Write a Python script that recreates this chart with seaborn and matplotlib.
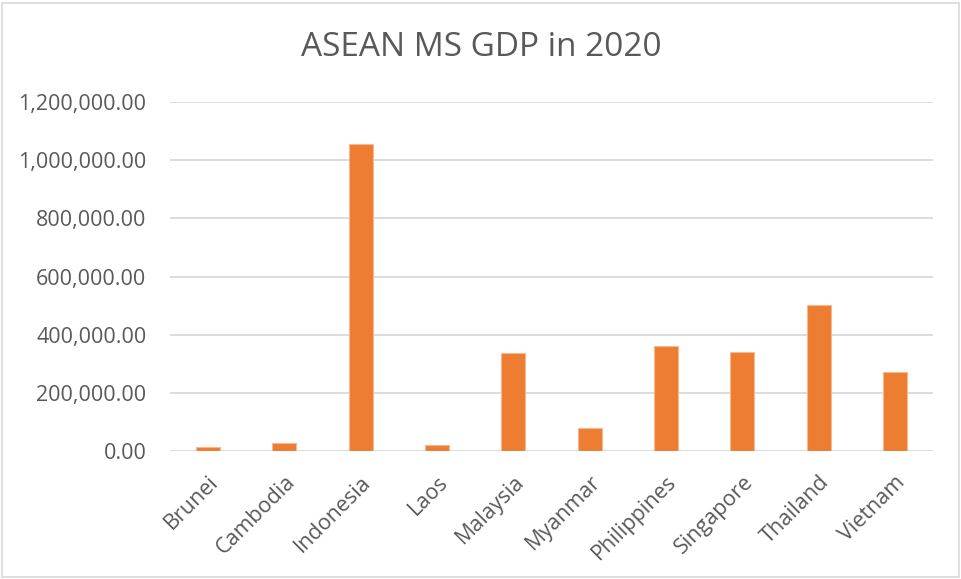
import matplotlib
matplotlib.use("Agg")
import matplotlib.pyplot as plt
import seaborn as sns
import pandas as pd
from matplotlib.ticker import FuncFormatter
from matplotlib.patches import Rectangle

countries = ["Brunei", "Cambodia", "Indonesia", "Laos", "Malaysia",
             "Myanmar", "Philippines", "Singapore", "Thailand", "Vietnam"]
gdp = [12000, 25900, 1058000, 19100, 337000,
       79000, 361500, 340000, 501800, 271200]
y_ticks = [0, 200000, 400000, 600000, 800000, 1000000, 1200000]

df = pd.DataFrame({"country": countries, "gdp": gdp})

sns.set_theme(style="white")
plt.rcParams["font.family"] = ["Open Sans", "DejaVu Sans"]

fig = plt.figure(figsize=(9.62, 5.79), dpi=100)
ax = fig.add_axes([0.1767, 0.2216, 0.7932, 0.6017])

sns.barplot(data=df, x="country", y="gdp", color="#ED7D31", saturation=1,
            width=0.315, edgecolor="#F6B98F", linewidth=0.8, ax=ax)

ax.set_ylim(0, 1200000)
ax.set_yticks(y_ticks)
ax.yaxis.set_major_formatter(FuncFormatter(lambda v, p: f"{v:,.2f}"))
ax.set_xlim(-0.5, len(countries) - 0.5)
ax.grid(axis="y", color="#D9D9D9", linewidth=1.3)
ax.set_axisbelow(True)
for s in ax.spines.values():
    s.set_visible(False)
ax.set_xlabel("")
ax.set_ylabel("")
ax.tick_params(axis="y", length=0, pad=17, labelsize=15.5, labelcolor="#595959")
ax.tick_params(axis="x", length=0, pad=15, labelsize=15.5, labelcolor="#595959")
plt.setp(ax.get_xticklabels(), rotation=45, ha="right", rotation_mode="anchor")

fig.text(0.5, 0.918, "ASEAN MS GDP in 2020", ha="center", va="center",
         fontsize=24, color="#595959")

fig.patches.append(Rectangle((0.002, 0.003), 0.995, 0.992, transform=fig.transFigure,
                             fill=False, edgecolor="#D9D9D9", linewidth=1.2))

fig.savefig("out.png", dpi=100)
